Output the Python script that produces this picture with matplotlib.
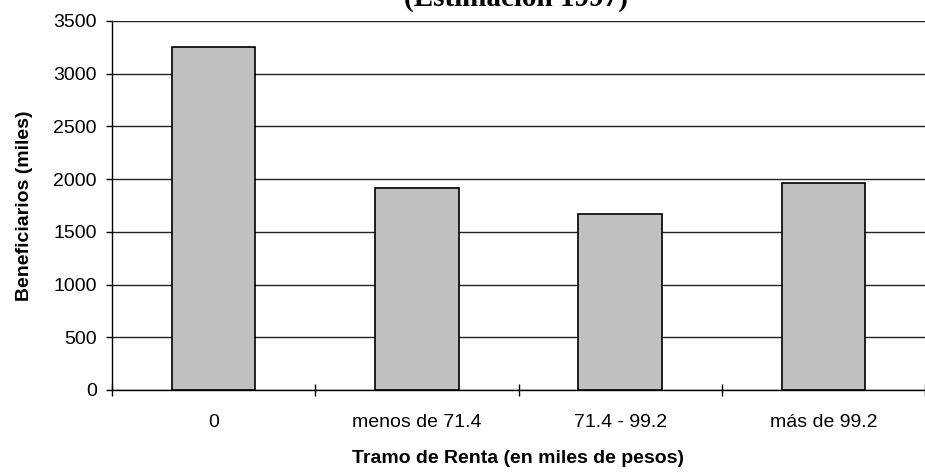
import numpy as np
import matplotlib
matplotlib.use("Agg")
from matplotlib import pyplot as plt

# beneficiarios por tramo de renta (miles)
tramos = ['0', 'menos de 71.4', '71.4 - 99.2', 'más de 99.2']
beneficiarios = [3250, 1915, 1670, 1960]
yticks = [0, 500, 1000, 1500, 2000, 2500, 3000, 3500]

plt.rcParams['font.family'] = ['Liberation Sans', 'DejaVu Sans']

fig = plt.figure(figsize=(9.25, 4.72), dpi=100)
ax = fig.add_axes([112 / 925, 82 / 472, 1 - 112 / 925, 369 / 472])

bar_index = np.arange(len(tramos))
ax.bar(bar_index, beneficiarios, 0.41, color='#C0C0C0',
       edgecolor='black', linewidth=1.2, zorder=3)

ax.set_ylim(0, 3500)
ax.set_yticks(yticks)
ax.set_xlim(-0.5, 3.447)
ax.set_xticks(bar_index)
ax.set_xticklabels(tramos)
ax.set_xticks(np.arange(len(tramos) + 1) - 0.5, minor=True)

ax.yaxis.grid(True, color='#222222', linewidth=1.0, zorder=0)
ax.set_axisbelow(True)

for side in ['top', 'right']:
    ax.spines[side].set_visible(False)
for side in ['left', 'bottom']:
    ax.spines[side].set_linewidth(1.0)
    ax.spines[side].set_color('black')

ax.tick_params(axis='y', direction='out', length=4.3, width=1.0,
               pad=6.5, labelsize=14)
ax.tick_params(axis='x', which='major', length=0, pad=17, labelsize=14)
ax.tick_params(axis='x', which='minor', direction='inout', length=8.6,
               width=1.0)

ax.set_ylabel('Beneficiarios (miles)', fontsize=14, fontweight='bold',
              labelpad=15)
ax.set_xlabel('Tramo de Renta (en miles de pesos)', fontsize=14,
              fontweight='bold', labelpad=14)

fig.text(516 / 925, 1 - 6 / 472, '(Estimación 1997)', ha='center',
         va='baseline', fontsize=21, fontweight='bold',
         family=['Liberation Serif', 'DejaVu Serif'])

fig.savefig('out.png', dpi=100)
